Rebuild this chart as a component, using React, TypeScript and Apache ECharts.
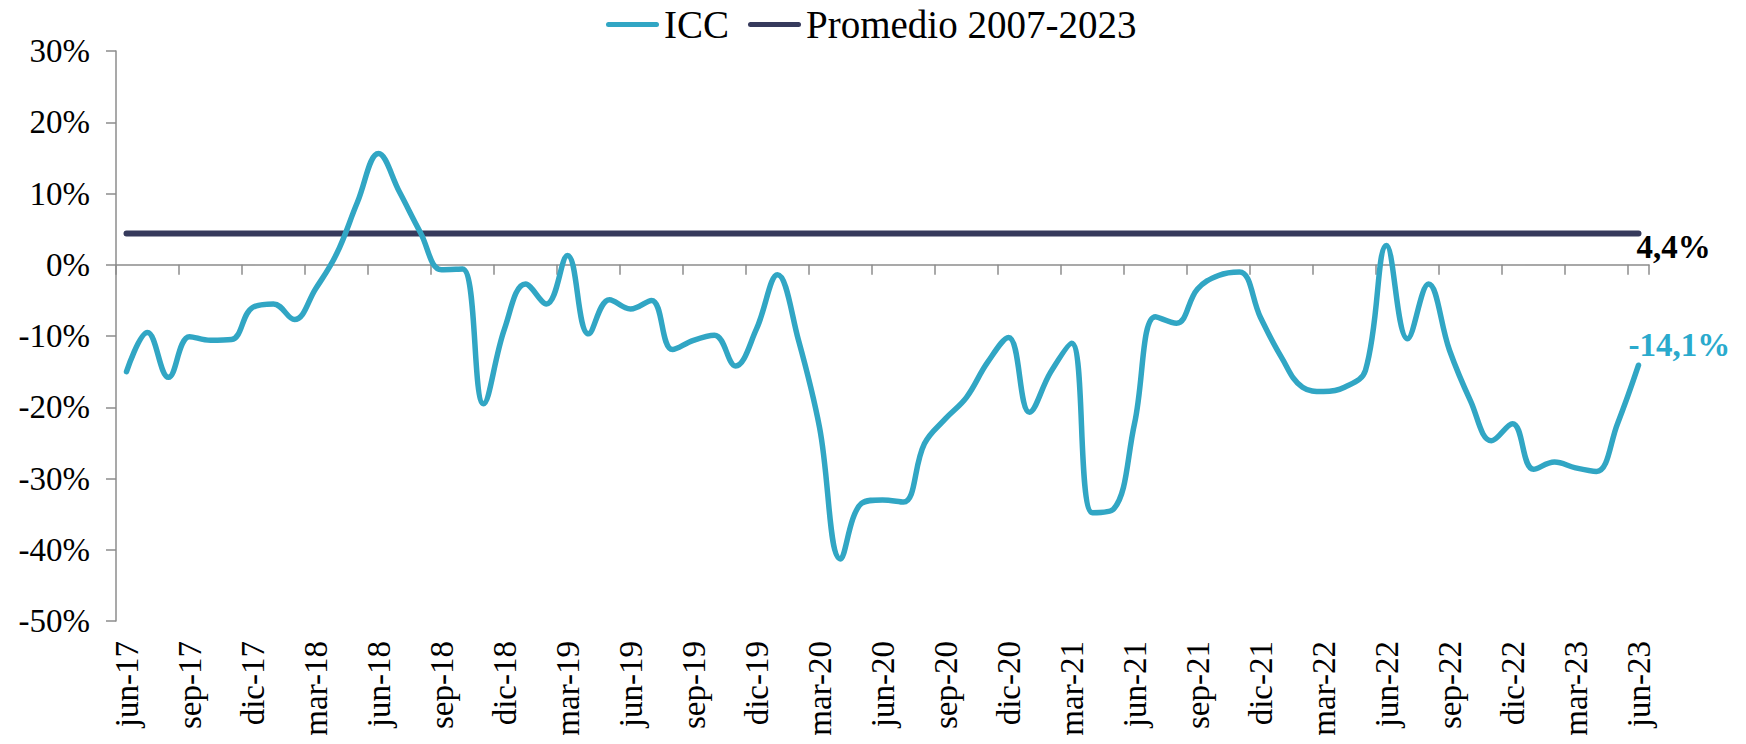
import React, { useEffect, useRef } from "react";
import * as echarts from "echarts";

const months: string[] = [
  "jun-17","jul-17","ago-17","sep-17","oct-17","nov-17","dic-17",
  "ene-18","feb-18","mar-18","abr-18","may-18","jun-18","jul-18","ago-18","sep-18","oct-18","nov-18","dic-18",
  "ene-19","feb-19","mar-19","abr-19","may-19","jun-19","jul-19","ago-19","sep-19","oct-19","nov-19","dic-19",
  "ene-20","feb-20","mar-20","abr-20","may-20","jun-20","jul-20","ago-20","sep-20","oct-20","nov-20","dic-20",
  "ene-21","feb-21","mar-21","abr-21","may-21","jun-21","jul-21","ago-21","sep-21","oct-21","nov-21","dic-21",
  "ene-22","feb-22","mar-22","abr-22","may-22","jun-22","jul-22","ago-22","sep-22","oct-22","nov-22","dic-22",
  "ene-23","feb-23","mar-23","abr-23","may-23","jun-23",
];

const iccValues: number[] = [
  -15.0, -9.5, -15.8, -10.1, -10.6, -10.5, -6.0,
  -5.5, -7.7, -3.4, 1.5, 8.8, 15.6, 10.2, 4.5, -0.7, -0.6, -19.5, -9.0,
  -2.7, -5.5, 1.3, -9.7, -4.9, -6.2, -5.0, -11.9, -10.6, -9.9, -14.2, -9.0,
  -1.4, -10.6, -22.8, -41.3, -33.5, -33.0, -33.3, -25.1, -21.6, -18.6, -13.7, -10.2,
  -20.7, -15.1, -11.0, -34.8, -34.3, -22.3, -7.3, -8.2, -3.4, -1.5, -1.0, -7.4,
  -13.0, -17.2, -17.8, -17.2, -14.8, 2.7, -10.4, -2.7, -12.0, -19.1, -24.7, -22.3,
  -28.7, -27.7, -28.5, -29.0, -22.3, -14.1,
];

const averageValue = 4.4;
const averageValues: number[] = months.map(() => averageValue);

const seriesNames = ["ICC", "Promedio 2007-2023"];
const iccEndLabel = "-14,1%";
const avgEndLabel = "4,4%";

const FONT = "'Liberation Serif', 'Times New Roman', serif";
const ICC_COLOR = "#31A6C4";
const AVG_COLOR = "#363A5C";
const AXIS_COLOR = "#8C8C8C";

export default function App() {
  const ref = useRef<HTMLDivElement>(null);

  useEffect(() => {
    document.body.style.margin = "0";
    if (!ref.current) return;
    const chart = echarts.init(ref.current, undefined, { renderer: "svg" });
    const legendIcon =
      "path://M2.5,0 H50.5 A2.5,2.5 0 0 1 50.5,5 H2.5 A2.5,2.5 0 0 1 2.5,0 Z";

    chart.setOption({
      animation: false,
      backgroundColor: "#ffffff",
      grid: { left: 116, right: 97, top: 51, bottom: 123, containLabel: false },
      legend: {
        top: 0,
        left: 601,
        itemWidth: 53,
        itemHeight: 6,
        itemGap: 19,
        textStyle: { fontFamily: FONT, fontSize: 39, color: "#000" },
        data: [
          { name: seriesNames[0], icon: legendIcon, itemStyle: { color: ICC_COLOR } },
          { name: seriesNames[1], icon: legendIcon, itemStyle: { color: AVG_COLOR } },
        ],
      },
      xAxis: [
        {
          type: "category",
          data: months,
          boundaryGap: true,
          position: "bottom",
          axisLine: { show: false, onZero: false },
          axisTick: { show: false },
          axisLabel: {
            interval: 2,
            rotate: 90,
            margin: 20,
            fontFamily: FONT,
            fontSize: 33,
            color: "#000",
          },
          splitLine: { show: false },
        },
        {
          type: "category",
          data: months,
          boundaryGap: true,
          position: "bottom",
          axisLine: { show: true, onZero: true, lineStyle: { color: AXIS_COLOR, width: 1.5 } },
          axisTick: { show: true, interval: 2, length: 10, lineStyle: { color: AXIS_COLOR, width: 1.5 } },
          axisLabel: { show: false },
          splitLine: { show: false },
        },
      ],
      yAxis: {
        type: "value",
        min: -50,
        max: 30,
        interval: 10,
        axisLine: { show: true, lineStyle: { color: AXIS_COLOR, width: 1.5 } },
        axisTick: { show: true, length: 10, lineStyle: { color: AXIS_COLOR, width: 1.5 } },
        axisLabel: {
          margin: 26,
          formatter: (v: number) => `${v}%`,
          fontFamily: FONT,
          fontSize: 33,
          color: "#000",
        },
        splitLine: { show: false },
      },
      series: [
        {
          name: seriesNames[1],
          type: "line",
          data: averageValues,
          symbol: "none",
          lineStyle: { color: AVG_COLOR, width: 6, cap: "round" },
          itemStyle: { color: AVG_COLOR },
          endLabel: {
            show: true,
            formatter: avgEndLabel,
            distance: 0,
            offset: [-2, 14],
            fontFamily: FONT,
            fontSize: 33,
            fontWeight: "bold",
            color: "#000",
          },
          z: 2,
        },
        {
          name: seriesNames[0],
          type: "line",
          data: iccValues,
          symbol: "none",
          smooth: 0.4,
          lineStyle: { color: ICC_COLOR, width: 5.5, cap: "round", join: "round" },
          itemStyle: { color: ICC_COLOR },
          endLabel: {
            show: true,
            formatter: iccEndLabel,
            distance: 0,
            offset: [-10, -20],
            fontFamily: FONT,
            fontSize: 33,
            fontWeight: "bold",
            color: "#2AAACD",
          },
          z: 3,
        },
      ],
    });

    return () => chart.dispose();
  }, []);

  return <div ref={ref} style={{ width: 1746, height: 744 }} />;
}
